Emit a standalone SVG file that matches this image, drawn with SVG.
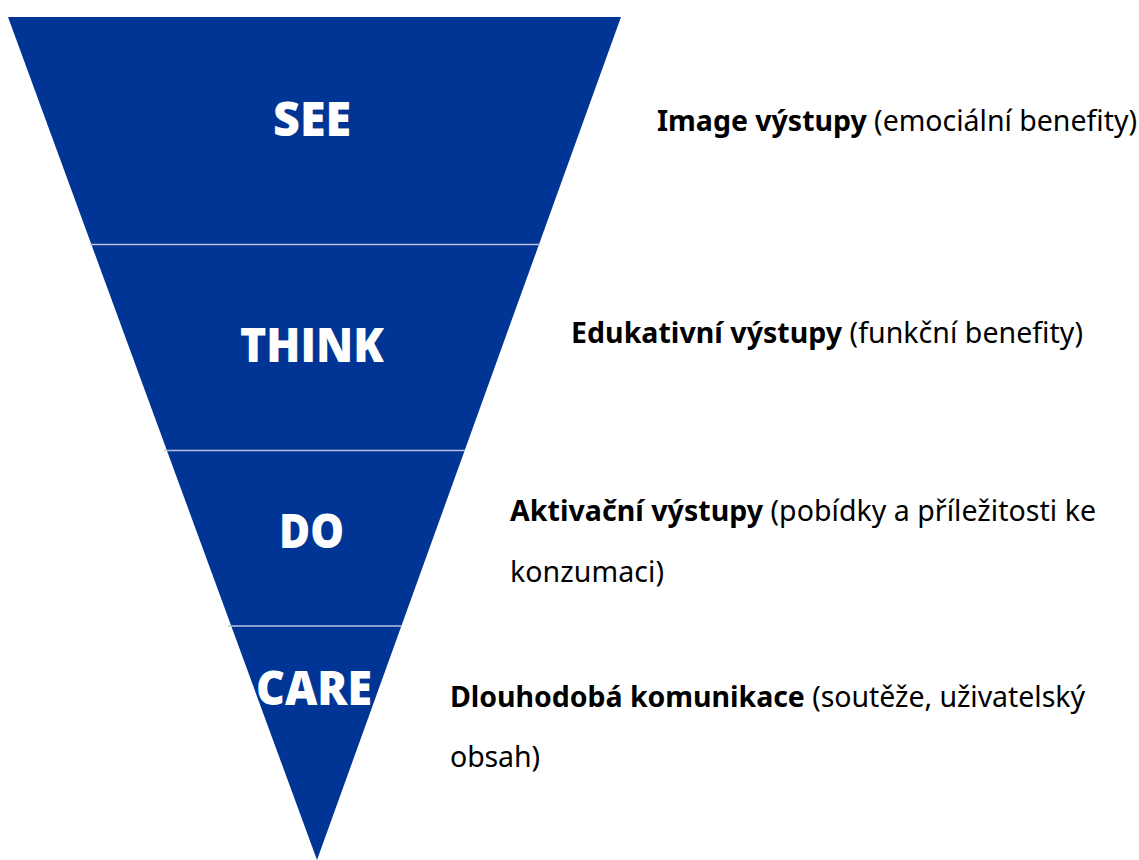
<svg xmlns="http://www.w3.org/2000/svg" width="1139" height="860" viewBox="0 0 1139 860">
  <style>
    .stage { fill: #003595; }
    .sep { stroke: #b9c3dd; stroke-width: 1.6; fill: none; }
    .label { font-family: "Open Sans", "Noto Sans", "Liberation Sans", sans-serif; font-weight: 800; fill: #ffffff; font-size: 47px; }
    .desc { font-family: "Noto Sans", "Open Sans", "Liberation Sans", sans-serif; font-size: 28.5px; fill: #000000; }
    .desc .b { font-weight: 700; }
  </style>
  <rect width="1139" height="860" fill="#ffffff"/>

  <!-- funnel body -->
  <g id="funnel">
    <polygon class="stage" points="8,17 621,17 317,860"/>
  </g>

  <!-- stage dividers -->
  <g id="connectors">
    <line class="sep" x1="90" y1="244.5" x2="540" y2="244.5"/>
    <line class="sep" x1="164" y1="450.5" x2="465" y2="450.5"/>
    <line class="sep" x1="228" y1="626" x2="402" y2="626"/>
  </g>

  <g id="see">
    <text class="label" x="273" y="136" textLength="78" lengthAdjust="spacingAndGlyphs">SEE</text>
    <text class="desc" x="657" y="131" textLength="480"><tspan class="b">Image výstupy</tspan> (emociální benefity)</text>
  </g>

  <g id="think">
    <text class="label" x="240" y="362" textLength="144" lengthAdjust="spacingAndGlyphs">THINK</text>
    <text class="desc" x="571" y="343" textLength="512"><tspan class="b">Edukativní výstupy</tspan> (funkční benefity)</text>
  </g>

  <g id="do">
    <text class="label" x="279" y="548" textLength="65" lengthAdjust="spacingAndGlyphs">DO</text>
    <text class="desc" x="510" y="521" textLength="586"><tspan class="b">Aktivační výstupy</tspan> (pobídky a příležitosti ke</text>
    <text class="desc" x="510" y="582" textLength="154">konzumaci)</text>
  </g>

  <g id="care">
    <text class="label" x="256" y="705" textLength="116" lengthAdjust="spacingAndGlyphs">CARE</text>
    <text class="desc" x="450" y="707" textLength="635"><tspan class="b">Dlouhodobá komunikace</tspan> (soutěže, uživatelský</text>
    <text class="desc" x="450" y="767" textLength="90">obsah)</text>
  </g>
</svg>
